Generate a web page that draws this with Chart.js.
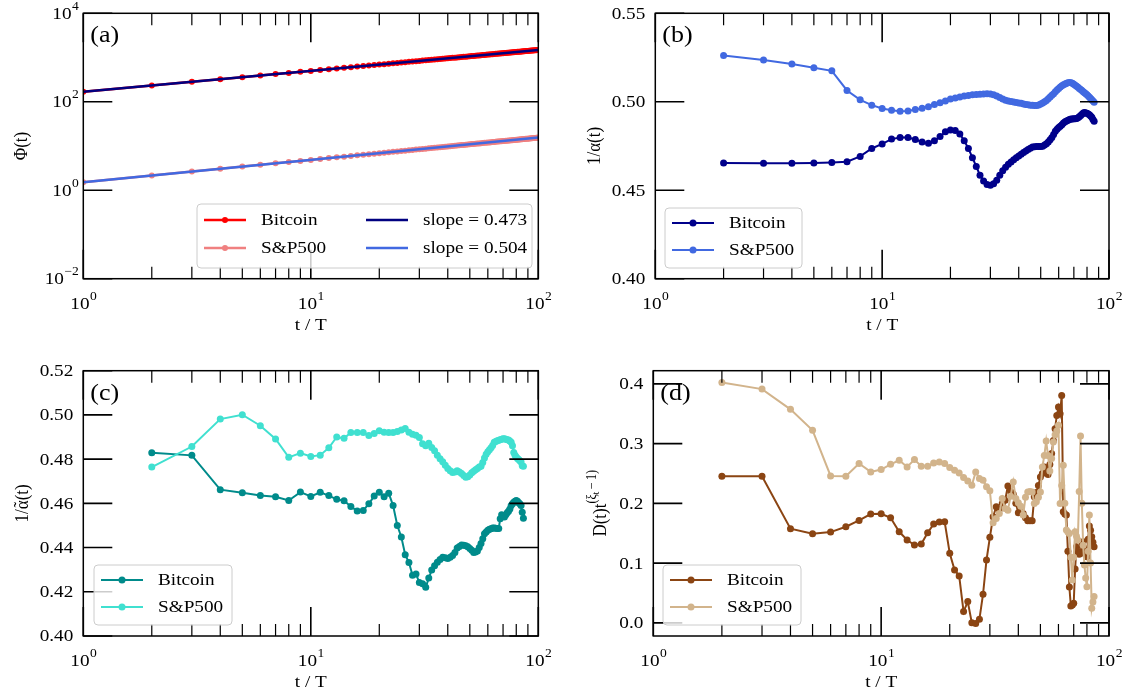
<!DOCTYPE html>
<html>
<head>
<meta charset="utf-8">
<script src="https://cdn.jsdelivr.net/npm/chart.js@4.4.0/dist/chart.umd.min.js"></script>
<style>
  html, body { margin: 0; padding: 0; background: #fff; }
  #wrap { position: relative; width: 1125px; height: 696px; }
  #wrap canvas { position: absolute; left: 0; top: 0; }
</style>
</head>
<body>
<div id="wrap">
  <canvas id="panelA" width="1125" height="696"></canvas>
  <canvas id="panelB" width="1125" height="696"></canvas>
  <canvas id="panelC" width="1125" height="696"></canvas>
  <canvas id="panelD" width="1125" height="696"></canvas>
</div>
<script>
// ---- data ----
// panel (a): t = 1..100
const tA = [1, 2, 3, 4, 5, 6, 7, 8, 9, 10, 11, 12, 13, 14, 15, 16, 17, 18, 19, 20,
  21, 22, 23, 24, 25, 26, 27, 28, 29, 30, 31, 32, 33, 34, 35, 36, 37, 38, 39, 40,
  41, 42, 43, 44, 45, 46, 47, 48, 49, 50, 51, 52, 53, 54, 55, 56, 57, 58, 59, 60,
  61, 62, 63, 64, 65, 66, 67, 68, 69, 70, 71, 72, 73, 74, 75, 76, 77, 78, 79, 80,
  81, 82, 83, 84, 85, 86, 87, 88, 89, 90, 91, 92, 93, 94, 95, 96, 97, 98, 99, 100];

const phiBitcoin = [168, 233, 283, 324, 360, 392, 422, 449, 475, 499,
  522, 544, 565, 585, 605, 624, 642, 659, 676, 693,
  709, 725, 740, 755, 770, 785, 799, 813, 826, 840,
  853, 866, 878, 891, 903, 915, 927, 939, 950, 962,
  973, 984, 995, 1006, 1017, 1027, 1038, 1048, 1058, 1069,
  1079, 1089, 1099, 1108, 1118, 1128, 1137, 1146, 1156, 1165,
  1174, 1183, 1192, 1201, 1210, 1219, 1227, 1236, 1245, 1253,
  1262, 1270, 1278, 1287, 1295, 1303, 1311, 1319, 1327, 1335,
  1343, 1351, 1358, 1366, 1374, 1381, 1389, 1396, 1404, 1411,
  1419, 1426, 1433, 1441, 1448, 1455, 1462, 1469, 1476, 1483];

const phiSP = [1.52, 2.16, 2.64, 3.06, 3.42, 3.75, 4.05, 4.34, 4.60, 4.85,
  5.09, 5.32, 5.54, 5.75, 5.95, 6.15, 6.34, 6.53, 6.71, 6.88,
  7.05, 7.22, 7.38, 7.54, 7.70, 7.85, 8.00, 8.15, 8.30, 8.44,
  8.58, 8.72, 8.86, 8.99, 9.12, 9.25, 9.38, 9.51, 9.63, 9.76,
  9.88, 10.00, 10.12, 10.23, 10.35, 10.47, 10.58, 10.69, 10.81, 10.92,
  11.03, 11.14, 11.24, 11.35, 11.46, 11.56, 11.66, 11.77, 11.87, 11.97,
  12.07, 12.17, 12.27, 12.37, 12.46, 12.56, 12.65, 12.75, 12.84, 12.93,
  13.02, 13.12, 13.21, 13.30, 13.39, 13.48, 13.57, 13.66, 13.74, 13.83,
  13.92, 14.00, 14.09, 14.18, 14.26, 14.35, 14.43, 14.51, 14.60, 14.68,
  14.76, 14.84, 14.92, 15.00, 15.08, 15.16, 15.24, 15.32, 15.40, 15.48];

const fitT = [1, 100];
const fitBitcoin = [168, 1483];
const fitSP = [1.52, 15.48];

// panels (b)-(d): t = 2..86
const tB = [2, 3, 4, 5, 6, 7, 8, 9, 10, 11, 12, 13, 14, 15, 16, 17, 18, 19, 20, 21,
  22, 23, 24, 25, 26, 27, 28, 29, 30, 31, 32, 33, 34, 35, 36, 37, 38, 39, 40, 41,
  42, 43, 44, 45, 46, 47, 48, 49, 50, 51, 52, 53, 54, 55, 56, 57, 58, 59, 60, 61,
  62, 63, 64, 65, 66, 67, 68, 69, 70, 71, 72, 73, 74, 75, 76, 77, 78, 79, 80, 81,
  82, 83, 84, 85, 86];

const invAlphaBitcoin = [0.4654, 0.4652, 0.4652, 0.4654, 0.4657, 0.4661, 0.4691, 0.4736, 0.4762, 0.4789,
  0.4798, 0.4798, 0.4787, 0.4773, 0.4765, 0.4779, 0.4803, 0.4830, 0.4841, 0.4838,
  0.4818, 0.4780, 0.4736, 0.4684, 0.4634, 0.4584, 0.4552, 0.4533, 0.4528, 0.4537,
  0.4556, 0.4585, 0.4610, 0.4630, 0.4647, 0.4660, 0.4672, 0.4684, 0.4694, 0.4704,
  0.4713, 0.4722, 0.4730, 0.4737, 0.4744, 0.4746, 0.4747, 0.4747, 0.4747, 0.4748,
  0.4755, 0.4763, 0.4772, 0.4785, 0.4798, 0.4815, 0.4833, 0.4845, 0.4855, 0.4862,
  0.4870, 0.4880, 0.4887, 0.4892, 0.4896, 0.4900, 0.4902, 0.4903, 0.4904, 0.4904,
  0.4906, 0.4910, 0.4915, 0.4922, 0.4930, 0.4937, 0.4939, 0.4937, 0.4935, 0.4931,
  0.4926, 0.4920, 0.4912, 0.4900, 0.4890];

const invAlphaSP = [0.5262, 0.5236, 0.5213, 0.5192, 0.5175, 0.5064, 0.5011, 0.4981, 0.4962, 0.4952,
  0.4947, 0.4948, 0.4956, 0.4963, 0.4972, 0.4985, 0.4995, 0.5005, 0.5015, 0.5021,
  0.5027, 0.5033, 0.5036, 0.5039, 0.5041, 0.5043, 0.5044, 0.5045, 0.5044, 0.5039,
  0.5032, 0.5024, 0.5016, 0.5009, 0.5005, 0.5001, 0.4998, 0.4996, 0.4993, 0.4991,
  0.4988, 0.4985, 0.4983, 0.4981, 0.4980, 0.4979, 0.4979, 0.4982, 0.4987, 0.4993,
  0.5000, 0.5007, 0.5017, 0.5027, 0.5037, 0.5046, 0.5056, 0.5066, 0.5075, 0.5083,
  0.5090, 0.5096, 0.5101, 0.5105, 0.5108, 0.5109, 0.5108, 0.5104, 0.5099, 0.5094,
  0.5088, 0.5082, 0.5075, 0.5069, 0.5063, 0.5057, 0.5051, 0.5045, 0.5039, 0.5032,
  0.5025, 0.5018, 0.5011, 0.5004, 0.4997];

const invAlphaTildeBitcoin = [0.4829, 0.4817, 0.4662, 0.4648, 0.4635, 0.4630, 0.4613, 0.4651, 0.4631, 0.4650,
  0.4635, 0.4618, 0.4612, 0.4586, 0.4565, 0.4568, 0.4598, 0.4633, 0.4650, 0.4630,
  0.4646, 0.4590, 0.4500, 0.4448, 0.4368, 0.4332, 0.4275, 0.4280, 0.4242, 0.4236,
  0.4220, 0.4262, 0.4298, 0.4318, 0.4334, 0.4346, 0.4356, 0.4354, 0.4350, 0.4356,
  0.4364, 0.4378, 0.4398, 0.4405, 0.4412, 0.4410, 0.4408, 0.4404, 0.4396, 0.4388,
  0.4378, 0.4380, 0.4385, 0.4400, 0.4418, 0.4440, 0.4462, 0.4470, 0.4478, 0.4483,
  0.4485, 0.4488, 0.4489, 0.4487, 0.4486, 0.4486, 0.4530, 0.4549, 0.4545, 0.4538,
  0.4548, 0.4558, 0.4564, 0.4575, 0.4590, 0.4598, 0.4605, 0.4610, 0.4613, 0.4610,
  0.4603, 0.4598, 0.4590, 0.4560, 0.4533];

const invAlphaTildeSP = [0.4764, 0.4857, 0.4981, 0.5001, 0.4951, 0.4891, 0.4808, 0.4827, 0.4812, 0.4818,
  0.4851, 0.4900, 0.4894, 0.4921, 0.4921, 0.4921, 0.4907, 0.4916, 0.4928, 0.4922,
  0.4920, 0.4920, 0.4925, 0.4932, 0.4938, 0.4922, 0.4913, 0.4908, 0.4898, 0.4870,
  0.4860, 0.4872, 0.4853, 0.4838, 0.4818, 0.4802, 0.4788, 0.4772, 0.4758, 0.4748,
  0.4740, 0.4742, 0.4748, 0.4742, 0.4735, 0.4726, 0.4718, 0.4720, 0.4728, 0.4738,
  0.4745, 0.4752, 0.4758, 0.4764, 0.4768, 0.4785, 0.4805, 0.4822, 0.4833, 0.4842,
  0.4851, 0.4862, 0.4876, 0.4880, 0.4883, 0.4885, 0.4888, 0.4890, 0.4892, 0.4892,
  0.4890, 0.4888, 0.4886, 0.4882, 0.4876, 0.4860, 0.4830, 0.4818, 0.4810, 0.4803,
  0.4798, 0.4793, 0.4787, 0.4770, 0.4768];

const dBitcoin = [0.2454, 0.2454, 0.1575, 0.1491, 0.1519, 0.1608, 0.1714, 0.1820, 0.1825, 0.1758,
  0.1524, 0.1386, 0.1302, 0.1319, 0.1508, 0.1653, 0.1686, 0.1691, 0.1164, 0.0885,
  0.0785, 0.0189, 0.0356, 0.0000, -0.0010, 0.0062, 0.0479, 0.1052, 0.1431, 0.1775,
  0.1942, 0.1898, 0.1998, 0.2050, 0.2292, 0.2200, 0.2154, 0.2000, 0.1841, 0.1900,
  0.1831, 0.1760, 0.1708, 0.1710, 0.1708, 0.2109, 0.2180, 0.2300, 0.2443, 0.2500,
  0.2609, 0.2550, 0.2482, 0.2650, 0.2833, 0.3050, 0.3250, 0.3472, 0.3611, 0.3500,
  0.3806, 0.1858, 0.1820, 0.1803, 0.1200, 0.0600, 0.0284, 0.0300, 0.0329, 0.0900,
  0.1274, 0.1200, 0.1150, 0.1163, 0.1300, 0.1357, 0.1250, 0.1150, 0.1107, 0.1400,
  0.1619, 0.1550, 0.1441, 0.1350, 0.1274];

const dSP = [0.4023, 0.3912, 0.3573, 0.3222, 0.2459, 0.2454, 0.2666, 0.2526, 0.2566, 0.2654,
  0.2721, 0.2610, 0.2733, 0.2621, 0.2621, 0.2676, 0.2693, 0.2666, 0.2599, 0.2554,
  0.2510, 0.2432, 0.2376, 0.2304, 0.2526, 0.2415, 0.2387, 0.2276, 0.2209, 0.1675,
  0.1748, 0.1831, 0.2081, 0.1915, 0.1886, 0.2120, 0.2359, 0.2081, 0.2009, 0.1950,
  0.1803, 0.2100, 0.2192, 0.2200, 0.2192, 0.1998, 0.2025, 0.2100, 0.2192, 0.2609,
  0.2800, 0.3043, 0.2800, 0.2543, 0.2750, 0.3027, 0.3150, 0.3210, 0.3306, 0.1998,
  0.2300, 0.2638, 0.2000, 0.1553, 0.1520, 0.1497, 0.1100, 0.0718, 0.1100, 0.1524,
  0.1450, 0.1386, 0.2200, 0.3127, 0.2000, 0.1300, 0.0968, 0.0750, 0.0606, 0.1200,
  0.1803, 0.1000, 0.0245, 0.0350, 0.0439];

// ticks
const xMajorTicks = [1, 10, 100];
const xMinorTicks = [2, 3, 4, 5, 6, 7, 8, 9, 20, 30, 40, 50, 60, 70, 80, 90];
const yTicksA = [0.01, 1, 100, 10000];
const yTicksB = [0.40, 0.45, 0.50, 0.55];
const yTicksC = [0.40, 0.42, 0.44, 0.46, 0.48, 0.50, 0.52];
const yTicksD = [0.0, 0.1, 0.2, 0.3, 0.4];

const SERIF = '"Liberation Serif", "DejaVu Serif", serif';
const SX = 1.13;   // the source figure is a bit wider than tall, glyphs look stretched

function pts(xs, ys) {
  return xs.map((x, i) => ({ x: x, y: ys[i] }));
}

function label(ctx, str, x, y, size, align, base) {
  ctx.save();
  ctx.translate(x, y);
  ctx.scale(SX, 1);
  ctx.font = size + 'px ' + SERIF;
  ctx.textAlign = align;
  ctx.textBaseline = base;
  ctx.fillText(str, 0, 0);
  ctx.restore();
}

// 10^n label, matplotlib style
function pow10(ctx, x, y, e, align) {
  const sup = String(e).replace('-', '\u2212');
  ctx.save();
  ctx.translate(x, y);
  ctx.scale(SX, 1);
  ctx.font = '17px ' + SERIF;
  const w1 = ctx.measureText('10').width;
  ctx.font = '12px ' + SERIF;
  const w2 = ctx.measureText(sup).width;
  const x0 = align === 'center' ? -(w1 + w2) / 2 : -w1 - w2;
  ctx.textAlign = 'left';
  ctx.textBaseline = 'alphabetic';
  ctx.font = '17px ' + SERIF;
  ctx.fillText('10', x0, 0);
  ctx.font = '12px ' + SERIF;
  ctx.fillText(sup, x0 + w1 + 0.5, -9);
  ctx.restore();
}

// text made of pieces [text, size, dy, overPrevious], centred on 0
function richText(ctx, parts, y) {
  let total = 0;
  parts.forEach(p => {
    if (p[3]) return;
    ctx.font = p[1] + 'px ' + SERIF;
    total += ctx.measureText(p[0]).width;
  });
  let cur = -total / 2, prevX = 0, prevW = 0;
  ctx.textBaseline = 'alphabetic';
  parts.forEach(p => {
    ctx.font = p[1] + 'px ' + SERIF;
    const w = ctx.measureText(p[0]).width;
    if (p[3]) {
      ctx.textAlign = 'center';
      ctx.fillText(p[0], prevX + prevW / 2, y + p[2]);
      return;
    }
    ctx.textAlign = 'left';
    ctx.fillText(p[0], cur, y + p[2]);
    prevX = cur; prevW = w;
    cur += w;
  });
}

// frame, inward ticks, labels, legend
const deco = {
  id: 'deco',
  afterDraw(chart, args, o) {
    const ctx = chart.ctx, a = chart.chartArea;
    const xs = chart.scales.x, ys = chart.scales.y;
    ctx.save();
    ctx.strokeStyle = '#000';
    ctx.fillStyle = '#000';

    const xTick = (v, len) => {
      const p = xs.getPixelForValue(v);
      ctx.moveTo(p, a.bottom); ctx.lineTo(p, a.bottom - len);
      ctx.moveTo(p, a.top); ctx.lineTo(p, a.top + len);
    };
    ctx.lineWidth = 1.2;
    ctx.beginPath();
    xMinorTicks.forEach(v => xTick(v, 12));
    ctx.stroke();
    ctx.lineWidth = 1.6;
    ctx.beginPath();
    xMajorTicks.forEach(v => xTick(v, 29));
    o.yTicks.forEach(v => {
      const p = ys.getPixelForValue(v);
      ctx.moveTo(a.left, p); ctx.lineTo(a.left + 29, p);
      ctx.moveTo(a.right, p); ctx.lineTo(a.right - 29, p);
    });
    ctx.stroke();
    ctx.lineWidth = 1.5;
    ctx.strokeRect(a.left, a.top, a.right - a.left, a.bottom - a.top);

    // tick labels
    xMajorTicks.forEach(v => pow10(ctx, xs.getPixelForValue(v), a.bottom + 30, Math.round(Math.log10(v)), 'center'));
    o.yTicks.forEach(v => {
      const p = ys.getPixelForValue(v);
      if (o.yLog) pow10(ctx, a.left - 5, p + 5.5, Math.round(Math.log10(v)), 'right');
      else label(ctx, v.toFixed(o.digits), a.left - 10, p + 1, 17, 'right', 'middle');
    });

    // axis titles
    label(ctx, 't / T', (a.left + a.right) / 2, a.bottom + 47, 17, 'center', 'middle');
    ctx.save();
    ctx.translate(o.yTitleX, (a.top + a.bottom) / 2);
    ctx.rotate(-Math.PI / 2);
    ctx.scale(1, SX);
    richText(ctx, o.yTitle, 6);
    ctx.restore();

    // panel letter
    label(ctx, o.letter, a.left + 7, a.top + 23, 23, 'left', 'middle');

    // legend
    const lg = o.legend;
    ctx.beginPath();
    if (ctx.roundRect) ctx.roundRect(lg.x, lg.y, lg.w, lg.h, 4);
    else ctx.rect(lg.x, lg.y, lg.w, lg.h);
    ctx.fillStyle = 'rgba(255,255,255,0.8)';
    ctx.fill();
    ctx.strokeStyle = '#cccccc';
    ctx.lineWidth = 1;
    ctx.stroke();
    lg.items.forEach(it => {
      const ds = chart.data.datasets[it.i];
      ctx.strokeStyle = ds.borderColor;
      ctx.lineWidth = ds.borderWidth;
      ctx.beginPath();
      ctx.moveTo(it.x, it.y); ctx.lineTo(it.x + 42, it.y);
      ctx.stroke();
      if (ds.pointRadius > 0) {
        ctx.fillStyle = ds.borderColor;
        ctx.beginPath();
        ctx.arc(it.x + 21, it.y, ds.pointRadius, 0, Math.PI * 2);
        ctx.fill();
      }
      ctx.fillStyle = '#000';
      label(ctx, ds.label, it.x + 57, it.y + 1, 17, 'left', 'middle');
    });
    ctx.restore();
  }
};

function series(label, data, color, width, radius, order) {
  return {
    label: label, data: data, borderColor: color, backgroundColor: color,
    pointBackgroundColor: color, pointBorderColor: color, pointBorderWidth: 0,
    borderWidth: width, pointRadius: radius, pointHoverRadius: radius,
    tension: 0, fill: false, order: order
  };
}

function makePanel(id, frame, yScale, datasets, decoOpts) {
  new Chart(document.getElementById(id), {
    type: 'line',
    data: { datasets: datasets },
    options: {
      responsive: false,
      animation: false,
      devicePixelRatio: 1,
      events: [],
      layout: { padding: { left: frame.l, top: frame.t, right: 1125 - frame.r, bottom: 696 - frame.b } },
      scales: {
        x: { type: 'logarithmic', min: 1, max: 100, display: false },
        y: Object.assign({ display: false }, yScale)
      },
      plugins: { legend: { display: false }, tooltip: { enabled: false }, deco: decoOpts }
    },
    plugins: [deco]
  });
}

// (a)
makePanel('panelA', { l: 83.3, t: 13.3, r: 538.3, b: 278.7 },
  { type: 'logarithmic', min: 0.01, max: 10000 },
  [
    series('Bitcoin', pts(tA, phiBitcoin), '#ff0000', 2.5, 3, 4),
    series('S&P500', pts(tA, phiSP), '#f08080', 2.5, 3, 3),
    series('slope = 0.473', pts(fitT, fitBitcoin), '#000080', 2.5, 0, 2),
    series('slope = 0.504', pts(fitT, fitSP), '#4169e1', 2.5, 0, 1)
  ],
  {
    yTicks: yTicksA, yLog: true, yTitleX: 20, yTitle: [['\u03a6(t)', 17, 0]], letter: '(a)',
    legend: { x: 197, y: 204, w: 335, h: 64, items: [
      { i: 0, x: 204, y: 220 }, { i: 1, x: 204, y: 248 },
      { i: 2, x: 366, y: 220 }, { i: 3, x: 366, y: 248 }] }
  });

// (b)
makePanel('panelB', { l: 655.3, t: 13.3, r: 1109, b: 278.7 },
  { type: 'linear', min: 0.40, max: 0.55 },
  [
    series('Bitcoin', pts(tB, invAlphaBitcoin), '#00008b', 2, 3.5, 2),
    series('S&P500', pts(tB, invAlphaSP), '#4169e1', 2, 3.5, 1)
  ],
  {
    yTicks: yTicksB, digits: 2, yTitleX: 593, yTitle: [['1/\u03b1(t)', 17, 0]], letter: '(b)',
    legend: { x: 665, y: 208, w: 137, h: 60, items: [{ i: 0, x: 672, y: 223 }, { i: 1, x: 672, y: 250 }] }
  });

// (c)
makePanel('panelC', { l: 83.3, t: 370.7, r: 538.3, b: 636 },
  { type: 'linear', min: 0.40, max: 0.52 },
  [
    series('Bitcoin', pts(tB, invAlphaTildeBitcoin), '#008b8b', 2, 3.5, 2),
    series('S&P500', pts(tB, invAlphaTildeSP), '#40e0d0', 2, 3.5, 1)
  ],
  {
    yTicks: yTicksC, digits: 2, yTitleX: 21,
    yTitle: [['1/', 17, 0], ['\u03b1', 17, 0], ['\u02dc', 17, -1, true], ['(t)', 17, 0]],
    letter: '(c)',
    legend: { x: 94, y: 565, w: 138, h: 60, items: [{ i: 0, x: 101, y: 580 }, { i: 1, x: 101, y: 607 }] }
  });

// (d)
makePanel('panelD', { l: 653.3, t: 370.7, r: 1109, b: 636 },
  { type: 'linear', min: -0.022, max: 0.422 },
  [
    series('Bitcoin', pts(tB, dBitcoin), '#8b4513', 2, 3.5, 2),
    series('S&P500', pts(tB, dSP), '#d2b48c', 2, 3.5, 1)
  ],
  {
    yTicks: yTicksD, digits: 1, yTitleX: 599,
    yTitle: [['D(t)t', 17, 0], ['(\u03be', 12, -9], ['t', 9, -6], ['\u2009\u2212\u20091)', 12, -9]],
    letter: '(d)',
    legend: { x: 663, y: 565, w: 138, h: 60, items: [{ i: 0, x: 670, y: 580 }, { i: 1, x: 670, y: 607 }] }
  });
</script>
</body>
</html>
